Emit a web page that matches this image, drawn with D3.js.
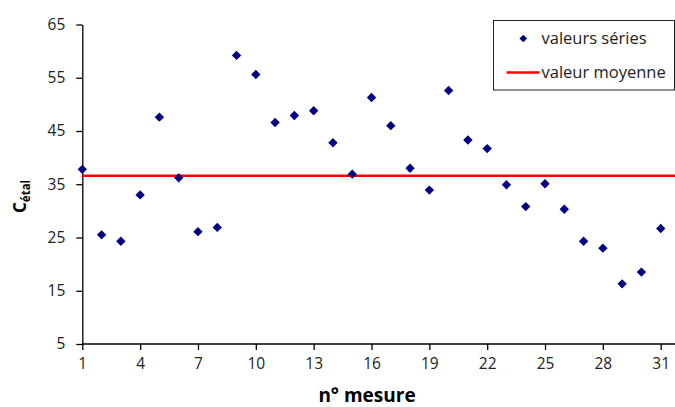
<!DOCTYPE html>
<html>
<head>
<meta charset="utf-8">
<script src="https://cdn.jsdelivr.net/npm/d3@7/dist/d3.min.js"></script>
<style>
  html, body { margin: 0; padding: 0; background: #fff; }
  svg { display: block; }
  text { font-family: "Open Sans", "Liberation Sans", sans-serif; }
</style>
</head>
<body>
<svg id="chart" width="675" height="407"></svg>
<script>
// ---- data ----
const mesures = [1,2,3,4,5,6,7,8,9,10,11,12,13,14,15,16,17,18,19,20,21,22,23,24,25,26,27,28,29,30,31,32];
const valeursSeries = [37.8,25.5,24.3,33.0,47.6,36.2,26.1,26.9,59.2,55.6,46.6,47.9,48.8,42.8,36.9,51.3,
                       46.0,38.0,33.9,52.6,43.3,41.7,34.9,30.8,35.1,30.3,24.3,23.0,16.3,18.5,26.7,30.7];
const valeurMoyenne = 36.6;
const xTicks = [1,4,7,10,13,16,19,22,25,28,31];
const yTicks = [5,15,25,35,45,55,65];
const legendLabels = ["valeurs séries", "valeur moyenne"];

const svg = d3.select("#chart");
const W = 675, H = 407;
svg.append("rect").attr("width", W).attr("height", H).attr("fill", "#fff");

const x = d3.scaleLinear().domain([1, 32]).range([82.3, 82.3 + 31 * 19.28]);
const y = d3.scaleLinear().domain([5, 65]).range([344, 24.5]);

// axes
const xAxis = d3.axisBottom(x).tickValues(xTicks).tickSize(6).tickSizeOuter(0).tickPadding(8);
const yAxis = d3.axisLeft(y).tickValues(yTicks).tickSize(6).tickSizeOuter(0).tickPadding(11);

const gx = svg.append("g").attr("transform", `translate(0,${y(5)})`).call(xAxis);
const gy = svg.append("g").attr("transform", `translate(${x(1)},0)`).call(yAxis);

[gx, gy].forEach(g => {
  g.select(".domain").attr("stroke", "#000").attr("stroke-width", 1.3);
  g.selectAll(".tick line").attr("stroke", "#000").attr("stroke-width", 1.3);
  g.selectAll(".tick text").attr("fill", "#222").style("font-size", "15.5px")
    .style("font-family", '"Open Sans", sans-serif');
});
// extend x axis line to the right edge
gx.select(".domain").attr("d", `M${x(1)},0H${W + 10}`);

// mean line
svg.append("line")
  .attr("x1", x(1)).attr("x2", W + 10)
  .attr("y1", y(valeurMoyenne)).attr("y2", y(valeurMoyenne))
  .attr("stroke", "#ff0000").attr("stroke-width", 2.6);

// points
const diamond = d3.symbol().type(d3.symbolSquare).size(44);
svg.append("g").selectAll("path")
  .data(mesures.map((m, i) => ({ m, v: valeursSeries[i] })))
  .join("path")
  .attr("d", diamond)
  .attr("transform", d => `translate(${x(d.m)},${y(d.v)}) rotate(45)`)
  .attr("fill", "#000080");

// axis titles
svg.append("text")
  .attr("x", 367).attr("y", 401.5)
  .attr("text-anchor", "middle")
  .style("font-size", "19px").style("font-weight", "bold")
  .attr("fill", "#000")
  .text("n° mesure");

const yt = svg.append("text")
  .attr("transform", "translate(25.5,213) rotate(-90)")
  .style("font-weight", "bold").attr("fill", "#000");
yt.append("tspan").style("font-size", "17px").text("C");
yt.append("tspan").style("font-size", "11.5px").attr("dy", 4.5).text("étal");

// legend
const lg = svg.append("g");
lg.append("rect")
  .attr("x", 493.5).attr("y", 20.5).attr("width", 181).attr("height", 69.5)
  .attr("fill", "#fff").attr("stroke", "#222").attr("stroke-width", 1);
lg.append("path")
  .attr("d", d3.symbol().type(d3.symbolSquare).size(30))
  .attr("transform", "translate(523.3,38.5) rotate(45)")
  .attr("fill", "#000080");
lg.append("line")
  .attr("x1", 506.5).attr("x2", 539.5).attr("y1", 72.5).attr("y2", 72.5)
  .attr("stroke", "#ff0000").attr("stroke-width", 2.6);
lg.selectAll("text.lbl").data(legendLabels).join("text")
  .attr("class", "lbl")
  .attr("x", 541.5)
  .attr("y", (d, i) => i === 0 ? 44 : 78)
  .style("font-size", "16.5px").attr("fill", "#222")
  .text(d => d);
</script>
</body>
</html>
